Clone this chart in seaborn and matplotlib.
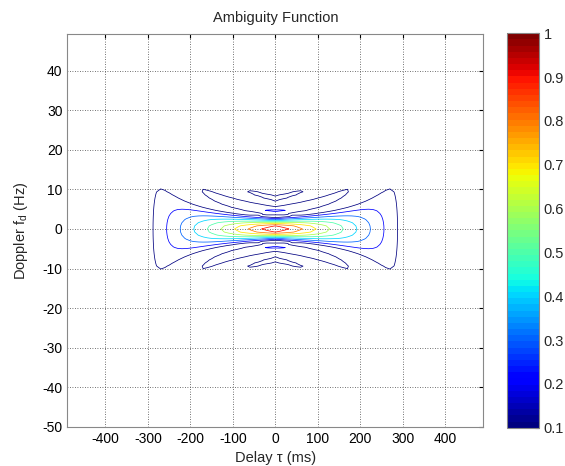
import numpy as np
import matplotlib
matplotlib.use("Agg")
import matplotlib.pyplot as plt
import seaborn as sns

# ---- data / parameters ----
sample_rate_hz = 100.0          # waveform sample rate
pulse_samples = 32              # samples in the rectangular pulse
pri_samples = 50                # samples in one pulse repetition interval
n_doppler = 128                 # doppler FFT length
contour_levels = [0.1, 0.2, 0.3, 0.4, 0.5, 0.6, 0.7, 0.8, 0.9]
cbar_ticks = [0.1, 0.2, 0.3, 0.4, 0.5, 0.6, 0.7, 0.8, 0.9, 1.0]
cbar_labels = ["0.1", "0.2", "0.3", "0.4", "0.5", "0.6", "0.7", "0.8", "0.9", "1"]
x_ticks = [-400, -300, -200, -100, 0, 100, 200, 300, 400]
y_ticks = [-50, -40, -30, -20, -10, 0, 10, 20, 30, 40]

# ---- ambiguity function of the sampled pulse ----
x = np.zeros(pri_samples)
x[:pulse_samples] = 1.0
lags = np.arange(-(pri_samples - 1), pri_samples)
delay_ms = lags / sample_rate_hz * 1000.0
doppler_hz = (np.arange(n_doppler) - n_doppler // 2) * sample_rate_hz / n_doppler
padded = np.concatenate([np.zeros(pri_samples), x, np.zeros(pri_samples)])
amb = np.zeros((n_doppler, lags.size))
for j, k in enumerate(lags):
    shifted = padded[pri_samples + k: 2 * pri_samples + k]
    spec = np.fft.fftshift(np.fft.fft(x * shifted, n_doppler))
    amb[:, j] = np.abs(spec)
amb /= amb.max()

sns.set_style("white")
plt.rcParams["font.family"] = ["Liberation Sans", "DejaVu Sans"]
plt.rcParams["mathtext.fontset"] = "custom"
plt.rcParams["mathtext.rm"] = "Liberation Sans"
plt.rcParams["mathtext.it"] = "Liberation Sans"
plt.rcParams["axes.unicode_minus"] = False

fig = plt.figure(figsize=(5.65, 4.66), dpi=100)
ax = fig.add_axes([0.1191, 0.0837, 0.7363, 0.8433])
cax = fig.add_axes([0.8973, 0.0822, 0.0566, 0.8464])

cmap = plt.get_cmap("jet", 64)
norm = matplotlib.colors.Normalize(vmin=0.1, vmax=1.0)
TT, FF = np.meshgrid(delay_ms, doppler_hz)
ax.contour(TT, FF, amb, levels=contour_levels, cmap=cmap, norm=norm,
           linewidths=0.55)

ax.set_xlim(delay_ms[0], delay_ms[-1])
ax.set_ylim(doppler_hz[0], doppler_hz[-1])
ax.set_xticks(x_ticks)
ax.set_yticks(y_ticks)
ax.grid(True, color="#444444", linestyle=(0, (1, 2)), linewidth=0.6)
ax.tick_params(direction="in", length=3, labelsize=10, colors="black",
               top=True, right=True)
for s in ax.spines.values():
    s.set_color("#888888")
    s.set_linewidth(0.8)
ax.set_title("Ambiguity Function", fontsize=10.5, pad=9)
ax.set_xlabel("Delay τ (ms)", fontsize=10.5, labelpad=4)
ax.set_ylabel(r"Doppler f$_\mathrm{d}$ (Hz)", fontsize=10.5, labelpad=9)

sm = matplotlib.cm.ScalarMappable(norm=norm, cmap=cmap)
cb = fig.colorbar(sm, cax=cax, ticks=cbar_ticks)
cb.ax.set_yticklabels(cbar_labels)
cb.ax.tick_params(direction="in", length=3, labelsize=10.5)
cb.outline.set_edgecolor("#888888")

fig.savefig("out.png", dpi=100)
